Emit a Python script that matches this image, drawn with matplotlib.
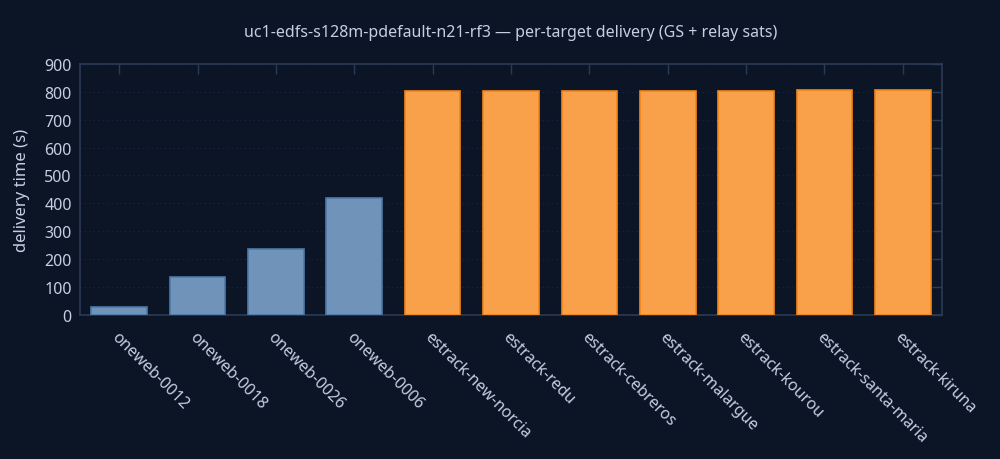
import matplotlib
matplotlib.use("Agg")
import matplotlib.pyplot as plt
import matplotlib.transforms as mtransforms

categories = ["oneweb-0012", "oneweb-0018", "oneweb-0026", "oneweb-0006",
              "estrack-new-norcia", "estrack-redu", "estrack-cebreros",
              "estrack-malargue", "estrack-kourou", "estrack-santa-maria",
              "estrack-kiruna"]
values = [28, 136, 236, 419, 802, 802, 802, 802, 802, 806, 806]
kinds = ["relay", "relay", "relay", "relay", "gs", "gs", "gs", "gs", "gs", "gs", "gs"]
yticks = [0, 100, 200, 300, 400, 500, 600, 700, 800, 900]
title = "uc1-edfs-s128m-pdefault-n21-rf3 \u2014 per-target delivery (GS + relay sats)"
ylabel = "delivery time (s)"

BG = "#0b1526"
TXT = "#c3cfe2"
SPINE = "#2b3a55"
fill = {"relay": "#7094b9", "gs": "#f8a04a"}
edge = {"relay": "#4e79a7", "gs": "#f58518"}

plt.rcParams['font.family'] = ['Noto Sans', 'DejaVu Sans']

fig = plt.figure(figsize=(10, 4.6), dpi=100, facecolor=BG)
ax = fig.add_axes([0.08, 0.313, 0.862, 0.546])
ax.set_facecolor(BG)

x = list(range(len(categories)))
ax.bar(x, values, width=0.71,
       color=[fill[k] for k in kinds],
       edgecolor=[edge[k] for k in kinds], linewidth=1.2, zorder=3)

ax.set_xlim(-0.5, len(categories) - 0.5)
ax.set_ylim(0, 900)
ax.set_yticks(yticks)
ax.set_xticks(x)
ax.set_xticklabels(categories, rotation=-45, ha="left", va="top",
                   rotation_mode="anchor", color=TXT, fontsize=11.5)
offset = mtransforms.ScaledTranslation(4 / 100, 0, fig.dpi_scale_trans)
for lab in ax.get_xticklabels():
    lab.set_transform(lab.get_transform() + offset)
ax.tick_params(axis="y", colors=TXT, labelsize=11.5, pad=6,
               left=False, right=True, labelleft=True, labelright=False,
               direction="in", length=7, color=SPINE, width=1)
ax.tick_params(axis="x", top=True, bottom=False, direction="in", length=7,
               color=SPINE, pad=10, width=1)
ax.grid(axis="y", color="#1a2840", linestyle=(0, (1, 3)), linewidth=0.8, zorder=0)
for s in ax.spines.values():
    s.set_color(SPINE)
    s.set_linewidth(1.2)

ax.set_ylabel(ylabel, color=TXT, fontsize=12, labelpad=10)
fig.text(0.511, 0.928, title, color=TXT, fontsize=11.5, ha="center", va="center")

fig.savefig("out.png", dpi=100, facecolor=BG)
